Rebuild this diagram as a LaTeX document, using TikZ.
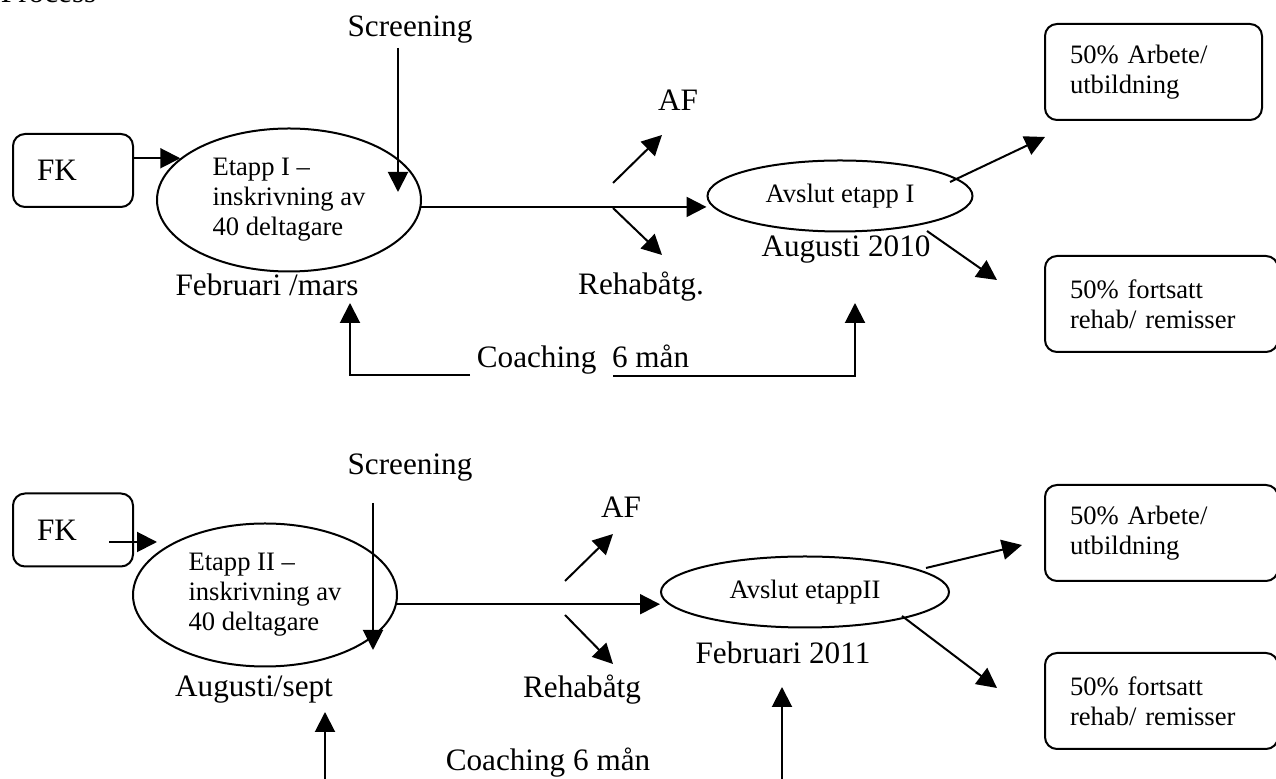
\documentclass[tikz,border=0pt]{standalone}
\usepackage{fontspec}
\setmainfont{Liberation Serif}
\usetikzlibrary{arrows.meta}
\usetikzlibrary{positioning, shapes.geometric}

\begin{document}
\begin{tikzpicture}[x=0.5pt, y=-0.5pt, line width=1pt,
        big/.style={font=\fontsize{15.6}{18}\selectfont, inner sep=0pt},
        small/.style={font=\fontsize{13.3}{15}\selectfont, align=left},
        fkbox/.style={draw, rounded corners=6pt, big, inner xsep=12pt, text width=36pt, align=left, minimum height=36.5pt},
        outbox/.style={draw, rounded corners=6pt, small, inner xsep=12.5pt, minimum height=48pt},
        stage/.style={draw, ellipse, small, inner sep=0pt},
        arr/.style={-{Triangle[length=10pt,width=10pt]}}]
        \useasboundingbox (0,0) rectangle (1276,779);
        \node[big, anchor=base west] (title) at (0,2.5) {Process};

        % etapp I
        \node[fkbox] (fkA) at (73,170.5) {FK};
        \node[stage, minimum width=132pt, minimum height=71.5pt] (etappA) at (289,200) {Etapp I –\\ inskrivning av\\ 40 deltagare};
        \node[stage, minimum width=132.5pt, minimum height=35.5pt] (avslutA) at (840,196) {Avslut etapp I};
        \node[big] (screenA) at (410,30) {Screening};
        \node[big] (febA) at (267,285) {Februari /mars};
        \node[big] (afA) at (678,100) {AF};
        \node[big] (rehabA) at (641,287) {Rehabåtg.};
        \node[big] (augA) at (846,250) {Augusti 2010};
        \node[big, anchor=base] (coachA) at (583,368) {Coaching~~6 mån};
        \node[outbox, text width=83.5pt] (arbA) at (1153.5,72) {50\% Arbete/\\ utbildning};
        \node[outbox, text width=91.5pt] (fortA) at (1161.5,304) {50\% fortsatt\\ rehab/ remisser};

        \coordinate (scrAs) at (398,48);
        \coordinate (scrAt) at (398,192);
        \coordinate (afAs) at (613,183);
        \coordinate (afAt) at (662,135);
        \coordinate (reAs) at (613,208);
        \coordinate (reAt) at (662,255);
        \coordinate (arbAs) at (950,182);
        \coordinate (arbAt) at (1045,137);
        \coordinate (fortAs) at (927,231);
        \coordinate (fortAt) at (997,280);
        \coordinate (coachAl) at (470,375);
        \coordinate (tipAl) at (350,303);
        \coordinate (coachAr) at (613,376);
        \coordinate (tipAr) at (855,303);

        \draw[arr] (etappA.159 -| fkA.east) -- (etappA.159);
        \draw[arr] (scrAs) -- (scrAt);
        \draw[arr] (etappA.-3.5) -- (etappA.-3.5 -| avslutA.west);
        \draw[arr] (afAs) -- (afAt);
        \draw[arr] (reAs) -- (reAt);
        \draw[arr] (arbAs) -- (arbAt);
        \draw[arr] (fortAs) -- (fortAt);
        \draw[arr] (coachAl) -| (tipAl);
        \draw[arr] (coachAr) -| (tipAr);

        % etapp II
        \node[fkbox] (fkB) at (73,530) {FK};
        \node[stage, minimum width=132pt, minimum height=71.5pt] (etappB) at (265,595) {Etapp II –\\ inskrivning av\\ 40 deltagare};
        \node[stage, minimum width=144pt, minimum height=35.5pt] (avslutB) at (805,592) {Avslut etappII};
        \node[big] (screenB) at (410,468) {Screening};
        \node[big] (augB) at (254,690) {Augusti/sept};
        \node[big] (afB) at (621,507) {AF};
        \node[big] (rehabB) at (582,690) {Rehabåtg};
        \node[big] (febB) at (783,653) {Februari 2011};
        \node[big, anchor=base] (coachB) at (548,771) {Coaching 6 mån};
        \node[outbox, text width=91.5pt] (arbB) at (1161.5,533) {50\% Arbete/\\ utbildning};
        \node[outbox, text width=91.5pt] (fortB) at (1161.5,701) {50\% fortsatt\\ rehab/ remisser};

        \coordinate (fkBs) at (109,542);
        \coordinate (fkBt) at (157,542);
        \coordinate (scrBs) at (373,503);
        \coordinate (scrBt) at (373,650);
        \coordinate (afBs) at (565,581);
        \coordinate (afBt) at (613,534);
        \coordinate (reBs) at (565,615);
        \coordinate (reBt) at (613,664);
        \coordinate (arbBs) at (926,568);
        \coordinate (arbBt) at (1022,545);
        \coordinate (fortBs) at (902,616);
        \coordinate (fortBt) at (997,688);
        \coordinate (coachBl) at (325,790);
        \coordinate (tipBl) at (325,712);
        \coordinate (coachBr) at (782,790);
        \coordinate (tipBr) at (782,687);

        \draw[arr] (fkBs) -- (fkBt);
        \draw[arr] (scrBs) -- (scrBt);
        \draw[arr] (etappB.-4.3) -- (etappB.-4.3 -| avslutB.west);
        \draw[arr] (afBs) -- (afBt);
        \draw[arr] (reBs) -- (reBt);
        \draw[arr] (arbBs) -- (arbBt);
        \draw[arr] (fortBs) -- (fortBt);
        \draw[arr] (coachBl) -- (tipBl);
        \draw[arr] (coachBr) -- (tipBr);
\end{tikzpicture}
\end{document}
